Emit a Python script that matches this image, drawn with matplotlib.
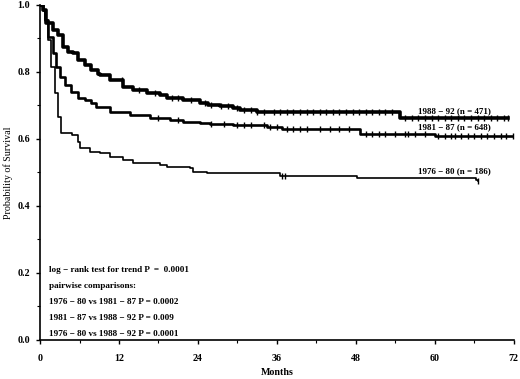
import matplotlib
matplotlib.use("Agg")
import matplotlib.pyplot as plt
from matplotlib.ticker import MultipleLocator

# Kaplan-Meier step points (months, survival)
t_8892 = [0, 0.46, 0.9, 2.0, 2.7, 3.5, 4.3, 5.0, 5.8, 6.8, 7.7, 8.8, 9.1, 10.6, 12.6, 14.1, 16.3, 18.2, 19.3,
          21.7, 24.3, 25.5, 27.3, 29.3, 30.4, 33.0, 54.7, 71.1]
s_8892 = [1.0, 0.985, 0.946, 0.925, 0.91, 0.875, 0.86, 0.857, 0.836, 0.821, 0.806, 0.795, 0.791, 0.776, 0.755, 0.746,
          0.737, 0.731, 0.722, 0.716, 0.707, 0.701, 0.698, 0.693, 0.687, 0.681, 0.663, 0.663]
c_8892 = [12.5, 15, 17.5, 20, 21, 23, 25, 26, 27.5, 28.5, 30, 31, 32, 33, 34, 35.5, 36.5, 37.5, 38.5, 39.5, 40.5,
          41.5, 42.5, 43.5, 44.5, 45.5, 46.5, 47.5, 48.5, 49.5, 50.5, 51.5, 52.5, 53.5, 55.5, 56.5, 57.5, 58.5,
          59.5, 60.5, 61.5, 62.5, 63.5, 64.5, 65.5, 66.5, 67.5, 68.5, 69.5, 70.5, 71.1]

t_8187 = [0, 0.46, 0.76, 1.2, 2.0, 2.4, 3.0, 3.8, 4.7, 5.8, 6.8, 7.7, 8.5, 10.6, 13.7, 16.7, 19.7, 21.7, 24.3,
          25.8, 29.3, 34.5, 36.8, 48.6, 60.0, 71.9]
s_8187 = [1.0, 0.985, 0.955, 0.905, 0.857, 0.815, 0.785, 0.761, 0.740, 0.722, 0.716, 0.707, 0.696, 0.681, 0.672,
          0.663, 0.657, 0.651, 0.648, 0.645, 0.642, 0.636, 0.630, 0.615, 0.609, 0.609]
c_8187 = [18, 21, 26, 28, 30, 31, 32, 34, 35, 36, 37.5, 38.5, 39.5, 40.5, 42.5, 44, 45.5, 47, 49.5, 50.5, 51.5,
          52.5, 54, 55.5, 56, 57, 58.5, 60.5, 61.5, 62.5, 63, 64, 65, 66, 67, 68, 69, 70, 70.8, 71.9]

t_7680 = [0, 0.46, 0.76, 1.2, 1.7, 2.3, 2.7, 3.2, 4.9, 5.8, 6.1, 7.6, 9.1, 10.6, 12.6, 14.1, 18.2, 19.3, 22.8,
          23.3, 25.4, 36.5, 48.2, 66.3, 66.5]
s_7680 = [1.0, 0.985, 0.955, 0.895, 0.815, 0.737, 0.666, 0.618, 0.612, 0.591, 0.573, 0.561, 0.558, 0.546, 0.537,
          0.528, 0.522, 0.516, 0.513, 0.501, 0.498, 0.49, 0.484, 0.478, 0.474]
c_7680 = [36.7, 37.2, 66.5]

labels = ["1988 \u2212 92 (n = 471)", "1981 \u2212 87 (n = 648)", "1976 \u2212 80 (n = 186)"]
label_y = [0.684, 0.636, 0.504]

stats_text = [
    "log \u2212 rank test for trend P  =  0.0001",
    "pairwise comparisons:",
    "1976 \u2212 80 vs 1981 \u2212 87 P = 0.0002",
    "1981 \u2212 87 vs 1988 \u2212 92 P = 0.009",
    "1976 \u2212 80 vs 1988 \u2212 92 P = 0.0001",
]
stats_y = [0.209, 0.161, 0.113, 0.066, 0.018]

plt.rcParams["font.family"] = ["Liberation Serif", "DejaVu Serif"]

fig = plt.figure(figsize=(5.2, 3.79), dpi=100)
ax = fig.add_axes([0.077, 0.103, 0.911, 0.884])

curves = [
    (t_8892, s_8892, c_8892, 2.6),
    (t_8187, s_8187, c_8187, 1.9),
    (t_7680, s_7680, c_7680, 1.2),
]


def surv_at(t, s, x):
    v = s[0]
    for ti, si in zip(t, s):
        if ti <= x:
            v = si
    return v


for t, s, c, lw in curves:
    ax.step(t, s, where="post", color="black", lw=lw)
    ax.plot(c, [surv_at(t, s, x) for x in c], ls="none", marker="|",
            color="black", ms=4, mew=1.0)

for lab, y in zip(labels, label_y):
    ax.text(57.4, y, lab, fontsize=6.5, fontweight="bold", ha="left", va="center")

for txt, y in zip(stats_text, stats_y):
    ax.text(1.4, y, txt, fontsize=6.6, fontweight="bold", ha="left", va="center")

ax.set_xlim(0, 72)
ax.set_ylim(0, 1.0)
ax.xaxis.set_major_locator(MultipleLocator(12))
ax.xaxis.set_minor_locator(MultipleLocator(6))
ax.yaxis.set_major_locator(MultipleLocator(0.2))
ax.yaxis.set_minor_locator(MultipleLocator(0.1))
ax.yaxis.set_major_formatter(plt.FuncFormatter(lambda v, p: f"{v:.1f}"))

for side in ["top", "right"]:
    ax.spines[side].set_visible(False)
for side in ["left", "bottom"]:
    ax.spines[side].set_linewidth(1.2)

ax.tick_params(which="major", direction="out", length=3, width=1, labelsize=7.2)
ax.tick_params(axis="x", which="major", pad=7)
ax.tick_params(axis="y", which="major", pad=4)
ax.tick_params(which="minor", direction="out", length=2, width=0.8)
for lbl in ax.get_xticklabels() + ax.get_yticklabels():
    lbl.set_fontweight("bold")

ax.set_xlabel("Months", fontsize=7.2, fontweight="bold")
ax.set_ylabel("Probability of Survival", fontsize=7.2)
ax.xaxis.set_label_coords(0.5, -0.085)
ax.yaxis.set_label_coords(-0.058, 0.5)

fig.savefig("out.png", dpi=100)
